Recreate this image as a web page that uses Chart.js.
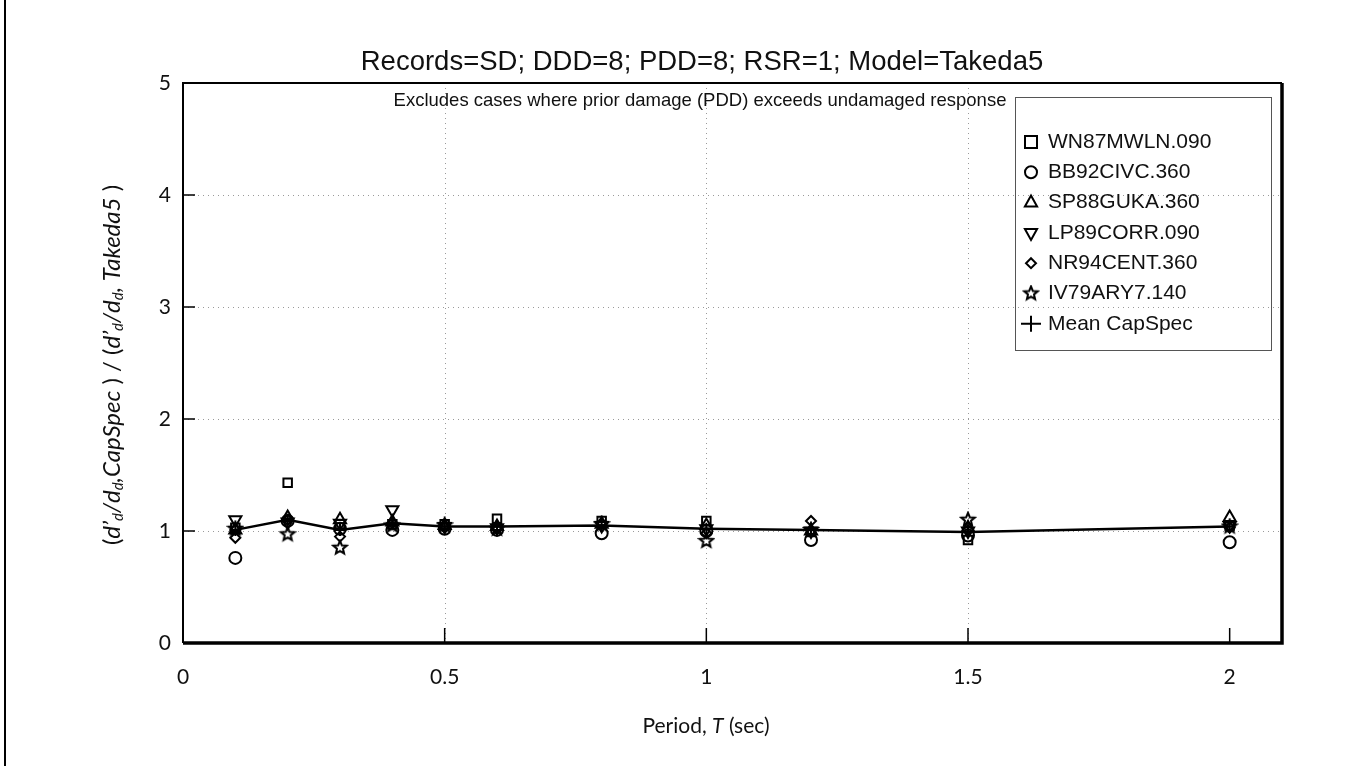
<!DOCTYPE html>
<html>
<head>
<meta charset="utf-8">
<script src="https://cdn.jsdelivr.net/npm/chart.js@4.4.0/dist/chart.umd.min.js"></script>
<style>
  body { margin: 0; background: #fff; }
  canvas { display: block; }
</style>
</head>
<body>
<canvas id="capChart" width="1364" height="766"></canvas>
<script>
// periods (sec)
const periods = [0.1, 0.2, 0.3, 0.4, 0.5, 0.6, 0.8, 1.0, 1.2, 1.5, 2.0];

// ratio values, one array per record
const wn87 = [1.03, 1.43, 1.06, 1.06, 1.06, 1.11, 1.09, 1.09, 0.99, 0.92, 1.05];
const bb92 = [0.76, 1.09, 1.02, 1.01, 1.02, 1.01, 0.98, 1.00, 0.92, 0.96, 0.90];
const sp88 = [1.01, 1.12, 1.10, 1.08, 1.05, 1.04, 1.06, 1.05, 1.00, 1.03, 1.12];
const lp89 = [1.10, 1.08, 1.07, 1.19, 1.04, 1.03, 1.05, 1.02, 1.00, 1.00, 1.05];
const nr94 = [0.94, 1.10, 0.95, 1.07, 1.03, 1.02, 1.07, 0.98, 1.09, 1.01, 1.03];
const iv79 = [1.02, 0.97, 0.85, 1.05, 1.05, 1.02, 1.06, 0.91, 1.01, 1.10, 1.04];
const meanCapSpec = [1.01, 1.10, 1.01, 1.07, 1.04, 1.04, 1.05, 1.02, 1.01, 0.99, 1.04];

const xTicks = [0, 0.5, 1, 1.5, 2];
const yTicks = [0, 1, 2, 3, 4, 5];

const titleText = "Records=SD; DDD=8; PDD=8; RSR=1; Model=Takeda5";
const noteText = "Excludes cases where prior damage (PDD) exceeds undamaged response";

//5-point star marker (open)
function makeStar(r) {
  const c = document.createElement("canvas");
  c.width = c.height = 2 * r + 4;
  const g = c.getContext("2d");
  const cx = r + 2, cy = r + 2;
  g.beginPath();
  for (let i = 0; i < 10; i++) {
    const a = -Math.PI / 2 + i * Math.PI / 5;
    const rad = i % 2 ? r * 0.45 : r;
    const px = cx + rad * Math.cos(a), py = cy + rad * Math.sin(a);
    if (i === 0) g.moveTo(px, py); else g.lineTo(px, py);
  }
  g.closePath();
  g.lineWidth = 2;
  g.strokeStyle = "#000";
  g.stroke();
  return c;
}
const starImg = makeStar(7);

const toPts = (vals) => vals.map((v, i) => ({ x: periods[i], y: v }));

const records = [
  { label: "WN87MWLN.090", data: wn87, style: "rect", radius: 6, rotation: 0 },
  { label: "BB92CIVC.360", data: bb92, style: "circle", radius: 6, rotation: 0 },
  { label: "SP88GUKA.360", data: sp88, style: "triangle", radius: 7, rotation: 0 },
  { label: "LP89CORR.090", data: lp89, style: "triangle", radius: 7, rotation: 180 },
  { label: "NR94CENT.360", data: nr94, style: "rectRot", radius: 5, rotation: 0 },
  { label: "IV79ARY7.140", data: iv79, style: starImg, radius: 7, rotation: 0 },
];

const datasets = records.map((r) => ({
  label: r.label,
  data: toPts(r.data),
  showLine: false,
  pointStyle: r.style,
  pointRadius: r.radius,
  pointRotation: r.rotation,
  pointBorderColor: "#000",
  pointBackgroundColor: "rgba(255,255,255,0)",
  pointBorderWidth: 2,
  order: 1,
}));
datasets.push({
  label: "Mean CapSpec",
  data: toPts(meanCapSpec),
  showLine: true,
  borderColor: "#000",
  borderWidth: 2.5,
  pointStyle: "cross",
  pointRadius: 6,
  pointBorderColor: "#000",
  pointBorderWidth: 2,
  tension: 0,
  order: 0,
});

// legend marker helper
function drawMarker(ctx, style, r, rot, x, y) {
  ctx.save();
  ctx.strokeStyle = "#000";
  ctx.lineWidth = 2;
  ctx.beginPath();
  if (style instanceof HTMLCanvasElement) {
    ctx.drawImage(style, x - style.width / 2, y - style.height / 2);
  } else if (style === "rect") {
    ctx.strokeRect(x - r, y - r, r * 2, r * 2);
  } else if (style === "circle") {
    ctx.arc(x, y, r, 0, Math.PI * 2);
    ctx.stroke();
  } else if (style === "triangle") {
    const s = rot === 180 ? -1 : 1;
    const rr = r;
    ctx.moveTo(x, y - s * rr);
    ctx.lineTo(x + rr * 0.87, y + s * rr * 0.55);
    ctx.lineTo(x - rr * 0.87, y + s * rr * 0.55);
    ctx.closePath();
    ctx.stroke();
  } else if (style === "rectRot") {
    ctx.moveTo(x, y - r);
    ctx.lineTo(x + r, y);
    ctx.lineTo(x, y + r);
    ctx.lineTo(x - r, y);
    ctx.closePath();
    ctx.stroke();
  }
  ctx.restore();
}

const framePlugin = {
  id: "frame",
  beforeDatasetsDraw(chart) {
    const { ctx, chartArea: a, scales } = chart;
    ctx.save();
    ctx.strokeStyle = "#9a9a9a";
    ctx.lineWidth = 1;
    ctx.setLineDash([1, 4]);
    [0.5, 1, 1.5].forEach((v) => {
      const px = Math.round(scales.x.getPixelForValue(v)) + 0.5;
      ctx.beginPath(); ctx.moveTo(px, a.top); ctx.lineTo(px, a.bottom); ctx.stroke();
    });
    [1, 2, 3, 4].forEach((v) => {
      const py = Math.round(scales.y.getPixelForValue(v)) + 0.5;
      ctx.beginPath(); ctx.moveTo(a.left, py); ctx.lineTo(a.right, py); ctx.stroke();
    });
    ctx.restore();
  },
  afterDraw(chart) {
    const { ctx, chartArea: a, scales } = chart;
    ctx.save();
    ctx.strokeStyle = "#000";
    // plot border: thin left/top, heavy bottom/right
    ctx.lineWidth = 2;
    ctx.beginPath(); ctx.moveTo(a.left, a.bottom); ctx.lineTo(a.left, a.top); ctx.lineTo(a.right, a.top); ctx.stroke();
    ctx.lineWidth = 3.5;
    ctx.beginPath(); ctx.moveTo(a.left, a.bottom); ctx.lineTo(a.right, a.bottom); ctx.lineTo(a.right, a.top); ctx.stroke();
    // inward tick marks
    ctx.lineWidth = 1.5;
    [0.5, 1, 1.5, 2].forEach((v) => {
      const px = scales.x.getPixelForValue(v);
      ctx.beginPath(); ctx.moveTo(px, a.bottom); ctx.lineTo(px, a.bottom - 15); ctx.stroke();
    });
    [1, 2, 3, 4].forEach((v) => {
      const py = scales.y.getPixelForValue(v);
      ctx.beginPath(); ctx.moveTo(a.left, py); ctx.lineTo(a.left + 12, py); ctx.stroke();
    });
    // scan frame line on the left
    ctx.lineWidth = 2;
    ctx.beginPath(); ctx.moveTo(5, 0); ctx.lineTo(5, 766); ctx.stroke();

    // title and note
    ctx.fillStyle = "#111";
    ctx.textAlign = "center";
    ctx.textBaseline = "middle";
    ctx.font = '27.5px "Liberation Sans", Arial, sans-serif';
    ctx.fillText(titleText, 702, 62);
    ctx.font = '18.5px "Liberation Sans", Arial, sans-serif';
    ctx.fillText(noteText, 700, 101);

    // x axis title with italic T
    const xt = [["Period, ", "21px Lato"], ["T", "italic 21px Lato"], [" (sec)", "21px Lato"]];
    let w = 0;
    xt.forEach(([t, f]) => { ctx.font = f; w += ctx.measureText(t).width; });
    let x0 = 706 - w / 2;
    ctx.textAlign = "left";
    xt.forEach(([t, f]) => { ctx.font = f; ctx.fillText(t, x0, 726); x0 += ctx.measureText(t).width; });

    // y axis title, rotated, with subscripts
    const yt = [
      ["(", "n"], ["d", "i"], ["\u2019", "i"], ["d", "s"], ["/", "i"], ["d", "i"], ["d", "s"], [",", "i"], ["CapSpec", "i"],
      [" ) / (", "n"], ["d", "i"], ["\u2019", "i"], ["d", "s"], ["/", "i"], ["d", "i"], ["d", "s"], [", ", "i"], ["Takeda5", "i"], [" )", "n"],
    ];
    const fonts = { n: "24px Lato", i: "italic 24px Lato", s: "italic 15px Lato" };
    ctx.save();
    ctx.translate(112, 365);
    ctx.rotate(-Math.PI / 2);
    w = 0;
    yt.forEach(([t, k]) => { ctx.font = fonts[k]; w += ctx.measureText(t).width; });
    x0 = -w / 2;
    yt.forEach(([t, k]) => {
      ctx.font = fonts[k];
      ctx.fillText(t, x0, k === "s" ? 6 : 0);
      x0 += ctx.measureText(t).width;
    });
    ctx.restore();

    // legend box
    const lx = 1015, ly = 97, lw = 256, lh = 253;
    ctx.strokeStyle = "#555";
    ctx.lineWidth = 1;
    ctx.setLineDash([]);
    ctx.strokeRect(lx + 0.5, ly + 0.5, lw, lh);
    ctx.fillStyle = "#111";
    ctx.font = '21px "Liberation Sans", Arial, sans-serif';
    ctx.textBaseline = "middle";
    records.forEach((r, i) => {
      const yy = 142 + i * 30.3;
      drawMarker(ctx, r.style, r.radius, r.rotation, 1031, yy);
      ctx.fillText(r.label, 1048, yy);
    });
    const ym = 142 + 6 * 30.3;
    ctx.strokeStyle = "#000";
    ctx.lineWidth = 2;
    ctx.beginPath();
    ctx.moveTo(1021, ym); ctx.lineTo(1041, ym);
    ctx.moveTo(1031, ym - 8); ctx.lineTo(1031, ym + 8);
    ctx.stroke();
    ctx.fillText("Mean CapSpec", 1048, ym);
    ctx.restore();
  },
};

const ctx = document.getElementById("capChart").getContext("2d");
const capChart = new Chart(ctx, {
  type: "scatter",
  data: { datasets: datasets },
  options: {
    responsive: false,
    animation: false,
    layout: { padding: { left: 0, top: 83, right: 82, bottom: 0 } },
    plugins: { legend: { display: false }, tooltip: { enabled: false } },
    scales: {
      x: {
        type: "linear",
        min: 0,
        max: 2.1,
        afterFit: (s) => { s.height = 123; },
        afterBuildTicks: (s) => { s.ticks = xTicks.map((v) => ({ value: v })); },
        grid: { display: false, drawTicks: false },
        border: { display: false },
        ticks: { padding: 22, color: "#111", font: { family: "Lato", size: 21 }, callback: (v) => String(v) },
      },
      y: {
        type: "linear",
        min: 0,
        max: 5,
        afterFit: (s) => { s.width = 183; },
        afterBuildTicks: (s) => { s.ticks = yTicks.map((v) => ({ value: v })); },
        grid: { display: false, drawTicks: false },
        border: { display: false },
        ticks: { padding: 12, color: "#111", font: { family: "Lato", size: 21 }, callback: (v) => String(v) },
      },
    },
  },
  plugins: [framePlugin],
});
</script>
</body>
</html>
